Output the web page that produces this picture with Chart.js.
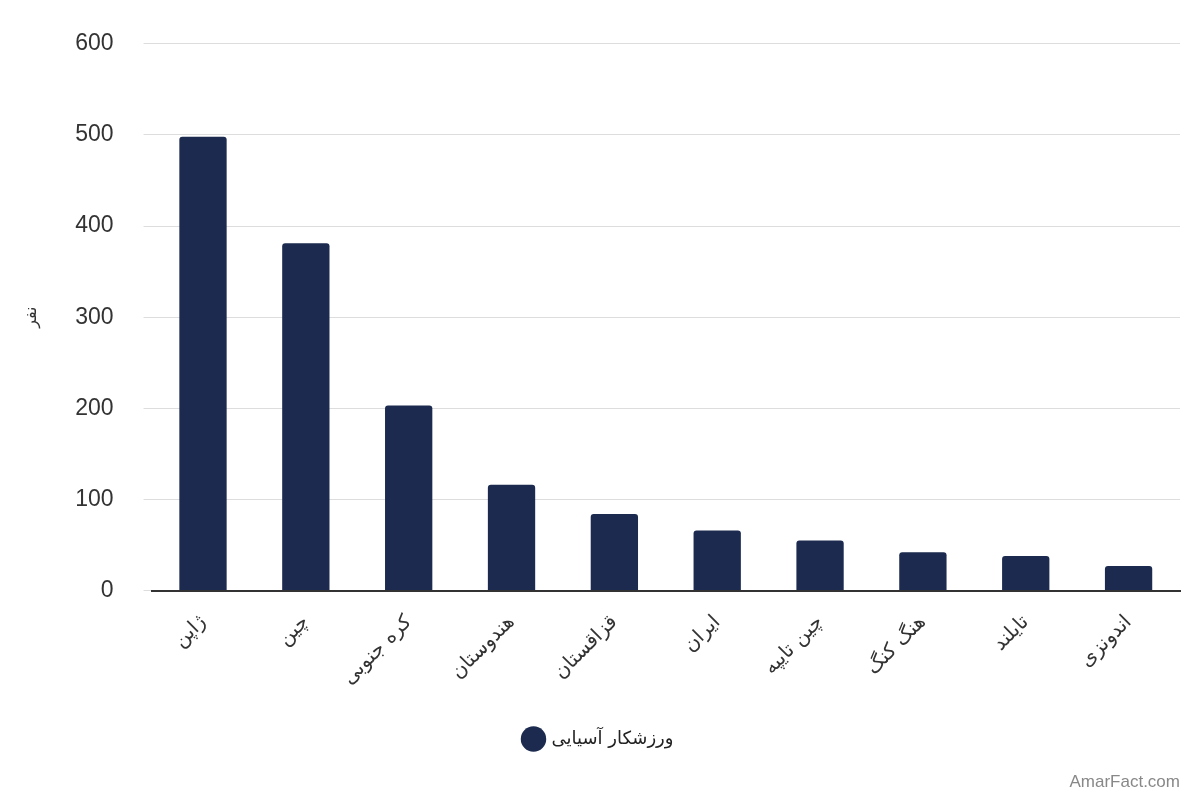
<!DOCTYPE html>
<html><head><meta charset="utf-8">
<script src="https://cdn.jsdelivr.net/npm/chart.js@4"></script>
<style>html,body{margin:0;padding:0;background:#fff}#w{width:1200px;height:800px;position:relative}
#wm{position:absolute;right:20px;bottom:8px;font:17px Arial,'Liberation Sans',sans-serif;color:#888}</style>
</head><body><div id="w"><canvas id="c" width="1200" height="800"></canvas><div id="wm">AmarFact.com</div></div>
<script>
const categories=["ژاپن","چین","کره جنوبی","هندوستان","قزاقستان","ایران","چین تایپه","هنگ کنگ","تایلند","اندونزی"];
const values=[498,381,203,116,84,66,55,42,38,27];
const seriesName="ورزشکار آسیایی";
const yTicks=[0,100,200,300,400,500,600];
new Chart(document.getElementById('c'),{type:'bar',
data:{labels:categories,datasets:[{label:seriesName,data:values,backgroundColor:'#1b2a4e',borderRadius:{topLeft:3,topRight:3},barPercentage:0.46,categoryPercentage:1}]},
options:{responsive:false,animation:false,
layout:{padding:{left:18,right:20,top:0,bottom:42}},
plugins:{legend:{position:'bottom',labels:{usePointStyle:true,pointStyle:'circle',boxWidth:24,boxHeight:24,color:'#222',font:{family:'DejaVu Sans',size:18},padding:28}},tooltip:{enabled:false}},
scales:{x:{grid:{display:false},border:{color:'#333',width:2},ticks:{color:'#333',font:{family:'DejaVu Sans',size:20},maxRotation:45,minRotation:45,padding:12}},
y:{min:0,max:600,afterBuildTicks:a=>{a.ticks=yTicks.map(v=>({value:v}))},grid:{color:'#ddd'},border:{display:false},
ticks:{color:'#333',font:{family:'Liberation Sans',size:23},padding:30},
title:{display:true,text:'نفر',color:'#333',font:{family:'DejaVu Sans',size:16}}}}}});
</script></body></html>
